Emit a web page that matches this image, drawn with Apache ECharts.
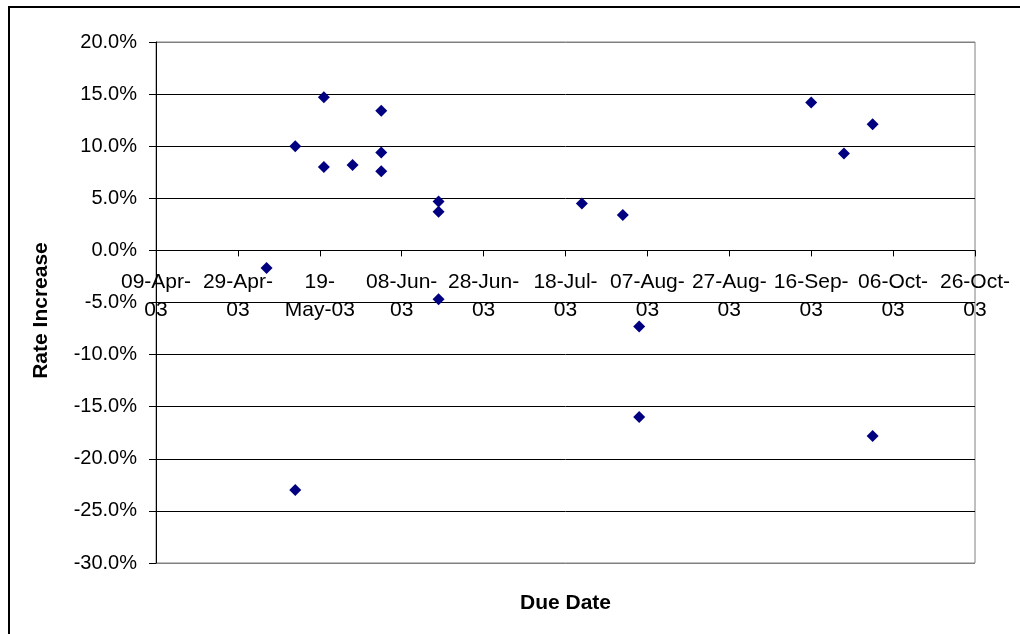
<!DOCTYPE html>
<html>
<head>
<meta charset="utf-8">
<script src="https://cdn.jsdelivr.net/npm/echarts@6/dist/echarts.min.js"></script>
<style>
  html, body { margin: 0; padding: 0; background: #fff; }
  #chart { width: 1020px; height: 634px; }
</style>
</head>
<body>
<div id="chart"></div>
<script>
// ---- data ----
const axisStartDate = '2003-04-09';
const axisDaySpan = 200;
const axisDayStep = 20;
const xTickLabels = ['09-Apr-\n03', '29-Apr-\n03', '19-\nMay-03', '08-Jun-\n03', '28-Jun-\n03',
  '18-Jul-\n03', '07-Aug-\n03', '27-Aug-\n03', '16-Sep-\n03', '06-Oct-\n03', '26-Oct-\n03'];
const dueDates = ['2003-05-06', '2003-05-13', '2003-05-13', '2003-05-20', '2003-05-20',
  '2003-05-27', '2003-06-03', '2003-06-03', '2003-06-03', '2003-06-17',
  '2003-06-17', '2003-06-17', '2003-07-22', '2003-08-01', '2003-08-05',
  '2003-08-05', '2003-09-16', '2003-09-24', '2003-10-01', '2003-10-01'];
const rateIncrease = [-1.7, 10.0, -23.0, 14.7, 8.0,
  8.2, 13.4, 9.4, 7.6, 4.7,
  3.7, -4.7, 4.5, 3.4, -7.3,
  -16.0, 14.2, 9.3, 12.1, -17.8];
const yMin = -30, yMax = 20, yStep = 5;

// ---- build ----
const DAY = 86400000;
const origin = Date.parse(axisStartDate + 'T00:00:00Z');
const dayOffset = s => Math.round((Date.parse(s + 'T00:00:00Z') - origin) / DAY);
const points = dueDates.map((d, i) => [dayOffset(d), rateIncrease[i]]);

const gridTop = 42, gridHeight = 521;
const nSplit = Math.round((yMax - yMin) / yStep) + 1;
const splitColors = Array.from({ length: nSplit }, (_, i) => (i === 0 || i === nSplit - 1) ? '#808080' : '#000000');
// x axis crosses the y axis at 0: shift it up from the grid bottom
const zeroOffset = -gridHeight * (0 - yMin) / (yMax - yMin);
const FONT = '"Liberation Sans", Arial, sans-serif';

const chart = echarts.init(document.getElementById('chart'), null, { renderer: 'canvas' });
chart.setOption({
  animation: false,
  backgroundColor: '#ffffff',
  grid: {
    left: 156, top: gridTop, width: 819, height: gridHeight,
    show: true, borderColor: '#808080', borderWidth: 1, backgroundColor: 'transparent',
    containLabel: false,
    outerBoundsMode: 'none'
  },
  xAxis: {
    type: 'value',
    min: 0, max: axisDaySpan, interval: axisDayStep,
    offset: zeroOffset,
    name: 'Due Date',
    nameLocation: 'middle',
    nameGap: 342,
    nameTextStyle: { fontFamily: FONT, fontSize: 21, fontWeight: 'bold', color: '#000', verticalAlign: 'top' },
    axisLine: { show: true, onZero: false, lineStyle: { color: '#000', width: 1 } },
    axisTick: { show: true, inside: false, length: 6, lineStyle: { color: '#000' } },
    splitLine: { show: false },
    axisLabel: {
      show: true, margin: 18, color: '#000', fontFamily: FONT, fontSize: 21, lineHeight: 28,
      showMinLabel: true, showMaxLabel: true, hideOverlap: false,
      formatter: v => xTickLabels[Math.round(v / axisDayStep)] || ''
    }
  },
  yAxis: {
    type: 'value',
    min: yMin, max: yMax, interval: yStep,
    name: 'Rate Increase',
    nameLocation: 'middle',
    nameGap: 104,
    nameRotate: 90,
    nameTextStyle: { fontFamily: FONT, fontSize: 21, fontWeight: 'bold', color: '#000', padding: [0, 16, 0, 0] },
    axisLine: { show: true, onZero: false, lineStyle: { color: '#000', width: 1 } },
    axisTick: { show: true, inside: false, length: 7, lineStyle: { color: '#000' } },
    splitLine: { show: true, lineStyle: { color: splitColors, width: 1 } },
    axisLabel: {
      margin: 19, color: '#000', fontFamily: FONT, fontSize: 20,
      formatter: v => v.toFixed(1) + '%'
    }
  },
  graphic: [{
    type: 'rect',
    silent: true,
    shape: { x: 9, y: 7, width: 1040, height: 660 },
    style: { fill: 'none', stroke: '#000', lineWidth: 2 }
  }],
  series: [{
    type: 'scatter',
    name: 'Rate Increase',
    data: points,
    symbol: 'diamond',
    symbolSize: 12,
    itemStyle: { color: '#000080', opacity: 1 },
    z: 5
  }]
});
</script>
</body>
</html>
